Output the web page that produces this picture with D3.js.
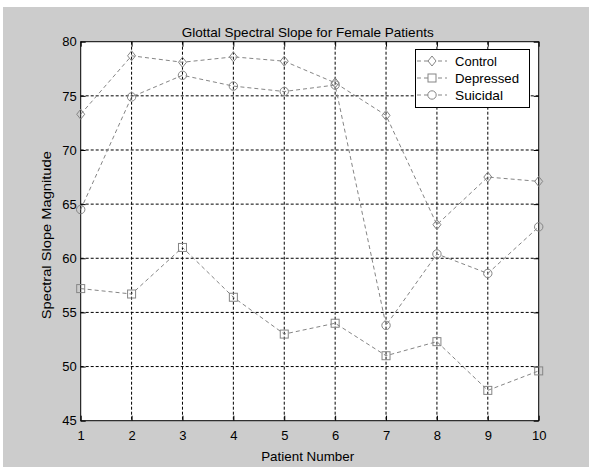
<!DOCTYPE html>
<html><head><meta charset="utf-8">
<script src="https://cdn.jsdelivr.net/npm/d3@7"></script>
<style>body{margin:0;background:#fff}text{font-family:"Liberation Sans",Arial,sans-serif}</style>
</head><body>
<svg id="c" width="589" height="467"></svg>
<script>
const patients = [1,2,3,4,5,6,7,8,9,10];
const control   = [73.3,78.7,78.1,78.6,78.2,76.2,73.2,63.1,67.5,67.1];
const depressed = [57.2,56.7,61.0,56.4,53.0,54.0,51.0,52.3,47.8,49.6];
const suicidal  = [64.5,74.9,76.9,75.9,75.4,76.0,53.8,60.4,58.6,62.9];
const seriesNames = ["Control","Depressed","Suicidal"];
const xTicks = [1,2,3,4,5,6,7,8,9,10];
const yTicks = [45,50,55,60,65,70,75,80];

const svg = d3.select("#c");
svg.append("rect").attr("x",3).attr("y",7).attr("width",586).attr("height",460).attr("fill","#cccccc");

const L=80.7,R=538.7,T=41.7,B=420.7;
const x=d3.scaleLinear().domain([1,10]).range([L,R]);
const y=d3.scaleLinear().domain([45,80]).range([B,T]);

svg.append("rect").attr("x",L).attr("y",T).attr("width",R-L).attr("height",B-T).attr("fill","#fff");

// grid
const g=svg.append("g");
g.selectAll(".gx").data(xTicks.slice(1,-1)).join("line")
 .attr("x1",d=>x(d)).attr("x2",d=>x(d)).attr("y1",T).attr("y2",B)
 .attr("stroke","#000").attr("stroke-dasharray","3,2");
g.selectAll(".gy").data(yTicks.slice(1,-1)).join("line")
 .attr("y1",d=>y(d)).attr("y2",d=>y(d)).attr("x1",L).attr("x2",R)
 .attr("stroke","#000").attr("stroke-dasharray","3,2");

// axes
const ax=svg.append("g").attr("transform",`translate(0,${B})`)
 .call(d3.axisBottom(x).tickValues(xTicks).tickSizeInner(-5).tickSizeOuter(0).tickPadding(10));
const ay=svg.append("g").attr("transform",`translate(${L},0)`)
 .call(d3.axisLeft(y).tickValues(yTicks).tickSizeInner(-5).tickSizeOuter(0).tickPadding(4));
const at=svg.append("g").attr("transform",`translate(0,${T})`)
 .call(d3.axisTop(x).tickValues(xTicks).tickSizeInner(-5).tickSizeOuter(0).tickFormat(""));
const ar=svg.append("g").attr("transform",`translate(${R},0)`)
 .call(d3.axisRight(y).tickValues(yTicks).tickSizeInner(-5).tickSizeOuter(0).tickFormat(""));
[ax,ay,at,ar].forEach(a=>{a.select(".domain").remove();a.selectAll("text").attr("font-size",13).attr("fill","#000").attr("font-family","Liberation Sans, Arial, sans-serif");a.selectAll("line").attr("stroke","#000");});
svg.append("rect").attr("x",L).attr("y",T).attr("width",R-L).attr("height",B-T).attr("fill","none").attr("stroke","#000");

// series
const col="#858585";
const data=[control,depressed,suicidal];
const shapes=["diamond","square","circle"];
function marker(sel,shape){
  if(shape==="diamond") sel.append("path").attr("d","M0,-5L4,0L0,5L-4,0Z");
  else if(shape==="square") sel.append("rect").attr("x",-4).attr("y",-4).attr("width",8).attr("height",8);
  else sel.append("circle").attr("r",4.2);
}
const line=d3.line().x((d,i)=>x(patients[i])).y(d=>y(d));
data.forEach((vals,k)=>{
  svg.append("path").datum(vals).attr("d",line).attr("fill","none").attr("stroke",col).attr("stroke-dasharray","4,3");
  svg.selectAll(null).data(vals).join("g").attr("transform",(d,i)=>`translate(${x(patients[i])},${y(d)})`)
   .each(function(){marker(d3.select(this),shapes[k]);})
   .selectAll("*").attr("fill","none").attr("stroke",col);
});

// legend
const lg=svg.append("g");
const legW=[42,64,48];
lg.append("rect").attr("x",415.5).attr("y",49.5).attr("width",114).attr("height",58).attr("fill","#fff").attr("stroke","#000");
seriesNames.forEach((n,k)=>{
  const yy=61+k*17;
  lg.append("line").attr("x1",417).attr("x2",447).attr("y1",yy).attr("y2",yy).attr("stroke",col).attr("stroke-dasharray","4,3");
  const m=lg.append("g").attr("transform",`translate(432,${yy})`);
  marker(m,shapes[k]); m.selectAll("*").attr("fill","#fff").attr("stroke",col);
  lg.append("text").attr("x",455).attr("y",yy+5).attr("font-size",13)
    .attr("textLength",legW[k]).attr("lengthAdjust","spacingAndGlyphs").text(n);
});

// titles
svg.append("text").attr("x",(L+R)/2-2).attr("y",37).attr("text-anchor","middle").attr("font-size",13)
  .attr("textLength",252).attr("lengthAdjust","spacingAndGlyphs").text("Glottal Spectral Slope for Female Patients");
svg.append("text").attr("x",(L+R)/2-2).attr("y",461).attr("text-anchor","middle").attr("font-size",13)
  .attr("textLength",93).attr("lengthAdjust","spacingAndGlyphs").text("Patient Number");
svg.append("text").attr("transform",`translate(51,${(T+B)/2+4}) rotate(-90)`).attr("text-anchor","middle").attr("font-size",13)
  .attr("textLength",168).attr("lengthAdjust","spacingAndGlyphs").text("Spectral Slope Magnitude");
</script>
</body></html>
